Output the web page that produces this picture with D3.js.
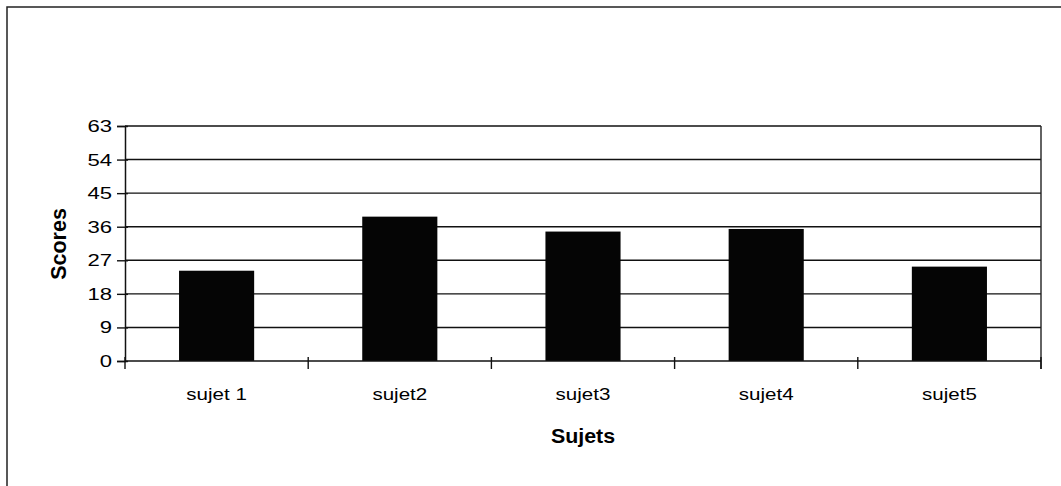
<!DOCTYPE html>
<html>
<head>
<meta charset="utf-8">
<script src="https://cdn.jsdelivr.net/npm/d3@7"></script>
<style>
  html, body { margin: 0; padding: 0; background: #fff; }
  svg { display: block; font-family: "Liberation Sans", Arial, sans-serif; }
</style>
</head>
<body>
<svg id="chart" width="1061" height="486"></svg>
<script>
const categories = ["sujet 1", "sujet2", "sujet3", "sujet4", "sujet5"];
const scores = [24.2, 38.7, 34.7, 35.4, 25.3];
const yTicks = [0, 9, 18, 27, 36, 45, 54, 63];
const xTitle = "Sujets";
const yTitle = "Scores";

const svg = d3.select("#chart");
const W = 1061, H = 486;
const m = { left: 125, top: 126 };
const pw = 1041 - m.left, ph = 361 - m.top;
const FONT = "'Liberation Sans', Arial, sans-serif";

// outer frame (right/bottom beyond image)
svg.append("path")
  .attr("d", `M7,${H + 5} L7,7 L${W + 5},7`)
  .attr("fill", "none").attr("stroke", "#222").attr("stroke-width", 1.5);

const x = d3.scaleBand().domain(categories).range([m.left, m.left + pw])
  .paddingInner(0.59).paddingOuter(0.295);
const y = d3.scaleLinear().domain([0, 63]).range([m.top + ph, m.top]);

// gridlines
svg.append("g").selectAll("line").data(yTicks.filter(d => d > 0)).join("line")
  .attr("x1", m.left).attr("x2", m.left + pw)
  .attr("y1", d => y(d)).attr("y2", d => y(d))
  .attr("stroke", "#111").attr("stroke-width", 1.4);

// right border
svg.append("line").attr("x1", m.left + pw).attr("x2", m.left + pw)
  .attr("y1", m.top).attr("y2", m.top + ph + 8)
  .attr("stroke", "#222").attr("stroke-width", 1.4);

// bars
svg.append("g").selectAll("rect").data(scores).join("rect")
  .attr("x", (d, i) => x(categories[i]))
  .attr("width", x.bandwidth())
  .attr("y", d => y(d))
  .attr("height", d => y(0) - y(d))
  .attr("fill", "#050505");

// y axis (ticks only, labels drawn separately)
const yAxis = d3.axisLeft(y).tickValues(yTicks).tickSize(8).tickFormat("");
const gy = svg.append("g").attr("transform", `translate(${m.left},0)`).call(yAxis);
gy.select(".domain").attr("stroke", "#111").attr("stroke-width", 1.5);
gy.selectAll(".tick line").attr("stroke", "#111").attr("stroke-width", 1.4).attr("x1", 3);

svg.append("g").selectAll("text").data(yTicks).join("text")
  .attr("transform", d => `translate(112,${y(d) + 6}) scale(1.3,1)`)
  .attr("text-anchor", "end").attr("font-size", 17).attr("font-family", FONT)
  .attr("fill", "#000").text(d => d);

// x axis with boundary ticks
const xAxisG = svg.append("g").attr("transform", `translate(0,${y(0)})`);
xAxisG.append("line").attr("x1", m.left).attr("x2", m.left + pw)
  .attr("stroke", "#111").attr("stroke-width", 1.5);
const step = x.step();
const bounds = d3.range(categories.length + 1).map(i => m.left + i * step);
xAxisG.selectAll(".bt").data(bounds).join("line").attr("class", "bt")
  .attr("x1", d => d).attr("x2", d => d).attr("y1", -4).attr("y2", 8)
  .attr("stroke", "#111").attr("stroke-width", 1.4);
xAxisG.selectAll(".lbl").data(categories).join("text").attr("class", "lbl")
  .attr("transform", d => `translate(${x(d) + x.bandwidth() / 2},39) scale(1.21,1)`)
  .attr("text-anchor", "middle").attr("font-size", 17).attr("font-family", FONT)
  .attr("fill", "#000").text(d => d);

// titles
svg.append("text")
  .attr("transform", `translate(${m.left + pw / 2},443) scale(1.07,1)`)
  .attr("text-anchor", "middle").attr("font-size", 20).attr("font-weight", "bold")
  .attr("font-family", FONT).text(xTitle);
svg.append("text").attr("transform", `translate(66,${244}) rotate(-90)`)
  .attr("text-anchor", "middle").attr("font-size", 21.5).attr("font-weight", "bold")
  .attr("font-family", FONT).text(yTitle);
</script>
</body>
</html>
